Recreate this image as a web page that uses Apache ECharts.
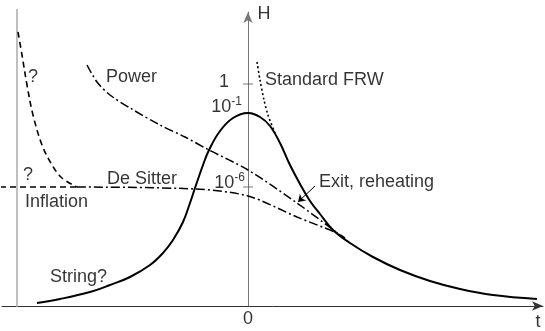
<!DOCTYPE html>
<html>
<head>
<meta charset="utf-8">
<script src="https://cdn.jsdelivr.net/npm/echarts@6/dist/echarts.min.js"></script>
<style>html,body{margin:0;padding:0;background:#fff}#c{width:545px;height:331px}</style>
</head>
<body>
<div id="c"></div>
<script>
// ---- data (t = time, H = Hubble rate, schematic units) ----
const stringT = [-10.55,-9.4,-7.9,-6.9,-5.9,-4.9,-4.25,-3.75,-3.25,-2.9,-2.65,-2.25,-1.95,-1.4,-0.75,0,0.6,1.1,1.6,2.1,2.6,3.1,3.6,4.25,5.1,6.25,7.6,9.1,10.6,12.25,14.45];
const stringH = [0.15,0.35,0.7,1.05,1.45,2.05,2.65,3.3,4.2,5.15,5.9,7.05,7.8,8.75,9.4,9.65,9.45,9.0,8.15,7.05,6.1,5.25,4.6,3.8,3.15,2.45,1.8,1.25,0.85,0.55,0.35];

const frwT = [0.45,0.6,0.8,1.0,1.35];
const frwH = [12.2,11.3,10.3,9.55,8.65];

const inflCurveT = [-11.5,-11.3,-11.05,-10.75,-10.3,-9.8,-9.3,-8.55];
const inflCurveH = [13.7,12.55,11.05,9.55,8.05,7.05,6.4,5.95];

const inflFlatT = [-12.4,-8.55];
const inflFlatH = [5.95,5.95];

const deSitterT = [-8.55,-2.65,0,2.45,4.45,4.85];
const deSitterH = [5.95,5.85,5.5,4.45,3.65,3.4];

const powerT = [-8.05,-7.55,-6.9,-5.9,-4.4,-3.15,-1.95,0,2.45,4.6,4.85];
const powerH = [12.05,11.2,10.55,9.9,9.05,8.45,7.8,6.8,5.15,3.55,3.35];

const boundaryT = [-11.55,-11.55];
const boundaryH = [14.85,-0.05];

const tickH = [11.1,9.65,5.95];
const tickLabels = ['1','10{sup|-1}','10{sup|-6}'];
const tickLabelT = [-0.95,-0.3,-0.15];
const tickLabelH = [11.2,9.95,6.15];

const notes = ['?','Power','Standard FRW','?','De Sitter','Inflation','String?','Exit, reheating'];
const noteT = [-11.0,-7.1,0.85,-11.25,-7.05,-11.15,-9.9,3.55];
const noteH = [11.45,11.45,11.3,6.55,6.35,5.2,1.45,6.2];

const exitArrow = [[3.35,6.0],[2.5,5.2]];

// ---- chart ----
const zip = (a,b) => a.map((v,i) => [v,b[i]]);
const FONT = 'Liberation Sans';
const chart = echarts.init(document.getElementById('c'), null, {renderer:'canvas'});
const lineBase = {type:'line', showSymbol:false, symbol:'none', clip:false, silent:true, animation:false};

chart.setOption({
  animation:false,
  backgroundColor:'#fff',
  grid:{left:2,right:2,top:12,bottom:25},
  xAxis:{type:'value',min:-12.3,max:14.75,
    axisLine:{onZero:true,lineStyle:{color:'#333',width:1},symbol:['none','arrow'],symbolSize:[7,11]},
    axisTick:{show:false},axisLabel:{show:false},splitLine:{show:false}},
  yAxis:{type:'value',min:0,max:14.7,
    axisLine:{show:true,onZero:true,lineStyle:{color:'#777',width:1},symbol:['none','arrow'],symbolSize:[7,11]},
    axisTick:{show:false},axisLabel:{show:false},splitLine:{show:false}},
  series:[
    Object.assign({}, lineBase, {name:'boundary',data:zip(boundaryT,boundaryH),lineStyle:{color:'#aaa',width:1.5}}),
    Object.assign({}, lineBase, {name:'String',data:zip(stringT,stringH),smooth:0.4,lineStyle:{color:'#000',width:2}}),
    Object.assign({}, lineBase, {name:'Standard FRW',data:zip(frwT,frwH),smooth:0.3,lineStyle:{color:'#000',width:1.6,type:[2,2.5]}}),
    Object.assign({}, lineBase, {name:'Inflation',data:zip(inflCurveT,inflCurveH),smooth:0.35,lineStyle:{color:'#000',width:1.6,type:[6,4]}}),
    Object.assign({}, lineBase, {name:'Inflation flat',data:zip(inflFlatT,inflFlatH),lineStyle:{color:'#000',width:1.6,type:[6,4]}}),
    Object.assign({}, lineBase, {name:'De Sitter',data:zip(deSitterT,deSitterH),smooth:0.3,lineStyle:{color:'#000',width:1.5,type:[9,3,2,3]}}),
    Object.assign({}, lineBase, {name:'Power',data:zip(powerT,powerH),smooth:0.3,lineStyle:{color:'#000',width:1.5,type:[9,3,2,3]},
      markLine:{silent:true,animation:false,symbol:['none','arrow'],symbolSize:7,label:{show:false},
        lineStyle:{color:'#000',width:1,type:'solid',curveness:-0.25},
        data:[[{coord:exitArrow[0]},{coord:exitArrow[1]}]]}}),
    {type:'scatter',name:'ticks',silent:true,animation:false,clip:false,
      data:tickH.map(h=>[0,h]),symbol:'rect',symbolSize:[10,1],itemStyle:{color:'#555'}},
    {type:'scatter',name:'tickLabels',silent:true,animation:false,clip:false,symbolSize:0,
      data:tickLabels.map((s,i)=>({value:[tickLabelT[i],tickLabelH[i]],name:s})),
      label:{show:true,position:[0,0],align:'right',verticalAlign:'middle',formatter:p=>p.name,
        fontFamily:FONT,fontSize:18,color:'#000',
        rich:{sup:{fontFamily:FONT,fontSize:12,color:'#000',verticalAlign:'top',padding:[0,0,10,0]}}}},
    {type:'scatter',name:'notes',silent:true,animation:false,clip:false,symbolSize:0,
      data:notes.map((s,i)=>({value:[noteT[i],noteH[i]],name:s})),
      label:{show:true,position:[0,0],align:'left',verticalAlign:'middle',formatter:p=>p.name,
        fontFamily:FONT,fontSize:18,color:'#000'}},
    {type:'scatter',name:'axisNames',silent:true,animation:false,clip:false,symbolSize:0,
      data:[{value:[0,-0.65],name:'0'},{value:[14.5,-0.8],name:'t'},{value:[0.8,14.6],name:'H'}],
      label:{show:true,position:[0,0],align:'center',verticalAlign:'middle',formatter:p=>p.name,
        fontFamily:FONT,fontSize:18,color:'#000'}}
  ]
});
</script>
</body>
</html>
